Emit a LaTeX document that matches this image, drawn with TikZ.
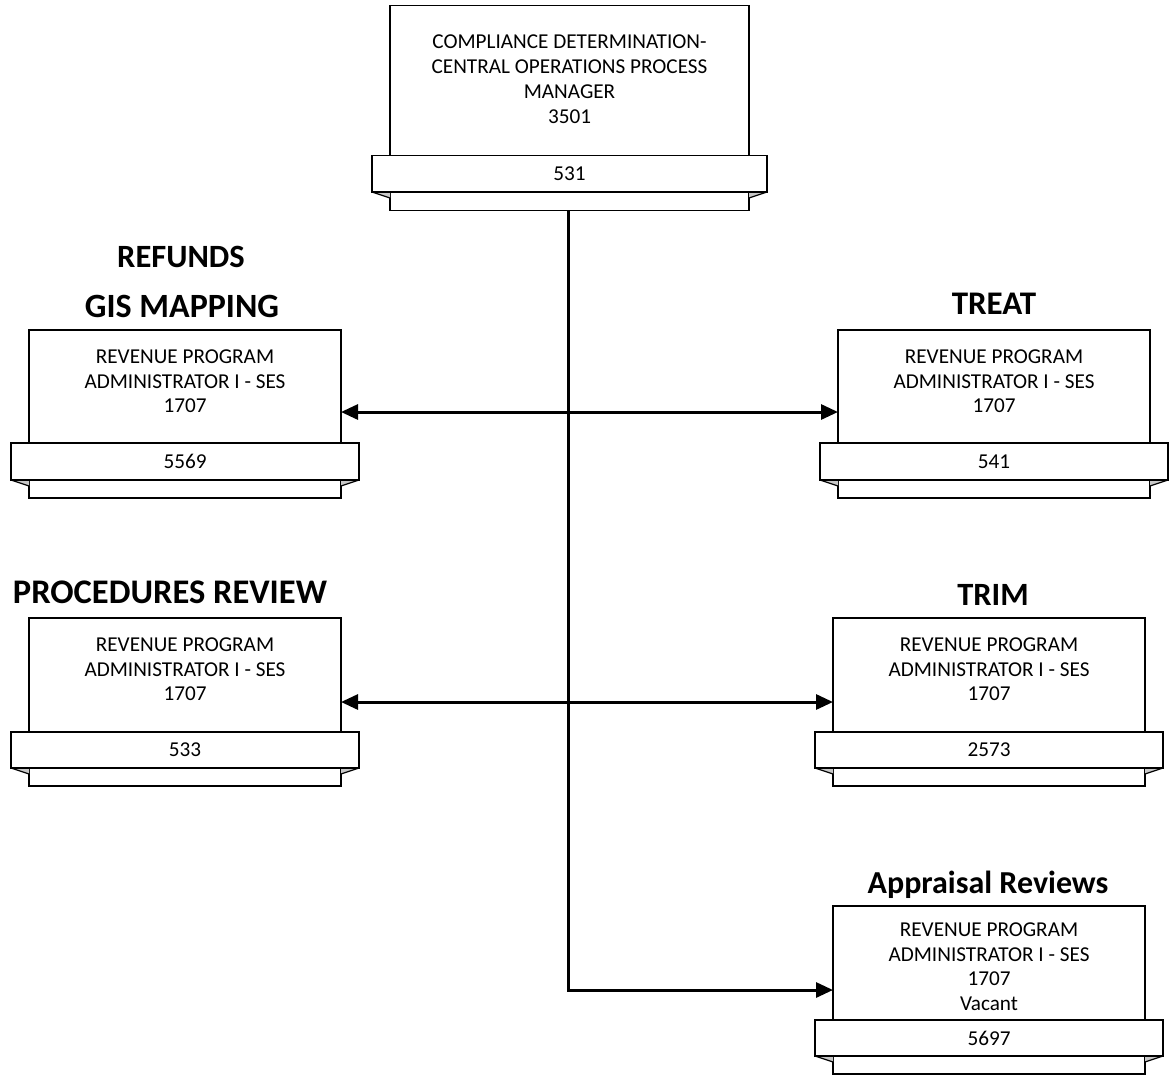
\documentclass[tikz,border=0pt]{standalone}
\usepackage{fontspec}
\setmainfont{Carlito}
\usetikzlibrary{arrows.meta,fit}
\definecolor{foldgray}{RGB}{200,200,200}
\tikzset{
  unitline/.style={draw=black, line width=1.8pt},
  unitbox/.style={unitline, fill=white, inner sep=0pt, outer sep=0pt},
  unittext/.style={align=center, inner sep=0pt, anchor=north,
    font=\fontsize{21.2}{24.5}\selectfont},
  numtext/.style={inner sep=0pt, font=\fontsize{21.2}{24.5}\selectfont},
  heading/.style={inner sep=0pt, anchor=base,
    font=\fontsize{#1}{36}\selectfont\bfseries},
  heading/.default=33,
  tip/.tip={Triangle[length=17pt,width=15pt]},
  link/.style={line width=3pt, -tip},
  bilink/.style={line width=3pt, tip-tip},
}
% One position: main box, number band across its foot, and the strip
% under the band with small shaded folds at both ends.
% #1 name, #2 left, #3 right, #4 top, #5 band top, #6 band bottom, #7 strip bottom
\newcommand\orgunit[7]{%
  \coordinate (#1-snw) at (#2,#6); \coordinate (#1-sse) at (#3,#7);
  \node[unitbox, fit=(#1-snw)(#1-sse)] (#1-strip) {};
  \fill[foldgray] ({#2-18},#6) -- (#2,#6) -- (#2,{#6+6}) -- cycle;
  \fill[foldgray] ({#3+18},#6) -- (#3,#6) -- (#3,{#6+6}) -- cycle;
  \draw[line width=1.2pt] ({#2-18},#6) -- (#2,{#6+6});
  \draw[line width=1.2pt] ({#3+18},#6) -- (#3,{#6+6});
  \coordinate (#1-nw) at (#2,#4); \coordinate (#1-se) at (#3,#5);
  \node[unitbox, fit=(#1-nw)(#1-se)] (#1) {};
  \coordinate (#1-bnw) at ({#2-18},#5); \coordinate (#1-bse) at ({#3+18},#6);
  \node[unitbox, fit=(#1-bnw)(#1-bse)] (#1-band) {};
}
\begin{document}
\begin{tikzpicture}[x=1pt,y=-1pt]
\useasboundingbox[fill=white] (0,0) rectangle (1170,1077);

% positions
\orgunit{mgr}{390}{749}{5.5}{155.5}{192}{210.5}
\orgunit{gis}{29}{341}{330}{443}{480}{498}
\orgunit{treat}{838}{1150}{330}{443}{480}{498}
\orgunit{proc}{29}{341}{618}{732}{768}{786}
\orgunit{trim}{833}{1145}{618}{732}{768}{786}
\orgunit{appr}{833}{1145}{906}{1020}{1056}{1074}

% texts in the boxes
\node[unittext, font=\fontsize{21.2}{25}\selectfont] (mgr-text) at (569.5,35) {COMPLIANCE DETERMINATION-\\CENTRAL OPERATIONS PROCESS\\MANAGER\\3501};
\node[numtext] (mgr-num) at (mgr-band.center) {531};

\node[unittext] (gis-text) at (185,350) {REVENUE PROGRAM\\ADMINISTRATOR I - SES\\1707};
\node[numtext] (gis-num) at (gis-band.center) {5569};

\node[unittext] (treat-text) at (994,350) {REVENUE PROGRAM\\ADMINISTRATOR I - SES\\1707};
\node[numtext] (treat-num) at (treat-band.center) {541};

\node[unittext] (proc-text) at (185,638) {REVENUE PROGRAM\\ADMINISTRATOR I - SES\\1707};
\node[numtext] (proc-num) at (proc-band.center) {533};

\node[unittext] (trim-text) at (989,638) {REVENUE PROGRAM\\ADMINISTRATOR I - SES\\1707};
\node[numtext] (trim-num) at (trim-band.center) {2573};

\node[unittext] (appr-text) at (989,923) {REVENUE PROGRAM\\ADMINISTRATOR I - SES\\1707\\Vacant};
\node[numtext] (appr-num) at (appr-band.center) {5697};

% unit headings
\node[heading=32.5] (h-refunds) at (181,267) {REFUNDS};
\node[heading=34] (h-gis) at (182,317) {GIS MAPPING};
\node[heading=33] (h-treat) at (994,314) {TREAT};
\node[heading=34.5] (h-proc) at (170,603) {PROCEDURES REVIEW};
\node[heading=32.5] (h-trim) at (993,605) {TRIM};
\node[heading=32] (h-appr) at (988,893) {Appraisal Reviews};

% reporting lines
\coordinate (row1) at (568,412);
\coordinate (row2) at (568,702);
\coordinate (row3) at (568,990);
\draw[link] (mgr-strip.south -| row3) |- (row3 -| appr.west);
\draw[bilink] (row1 -| gis.east) -- (row1 -| treat.west);
\draw[bilink] (row2 -| proc.east) -- (row2 -| trim.west);
\end{tikzpicture}
\end{document}
